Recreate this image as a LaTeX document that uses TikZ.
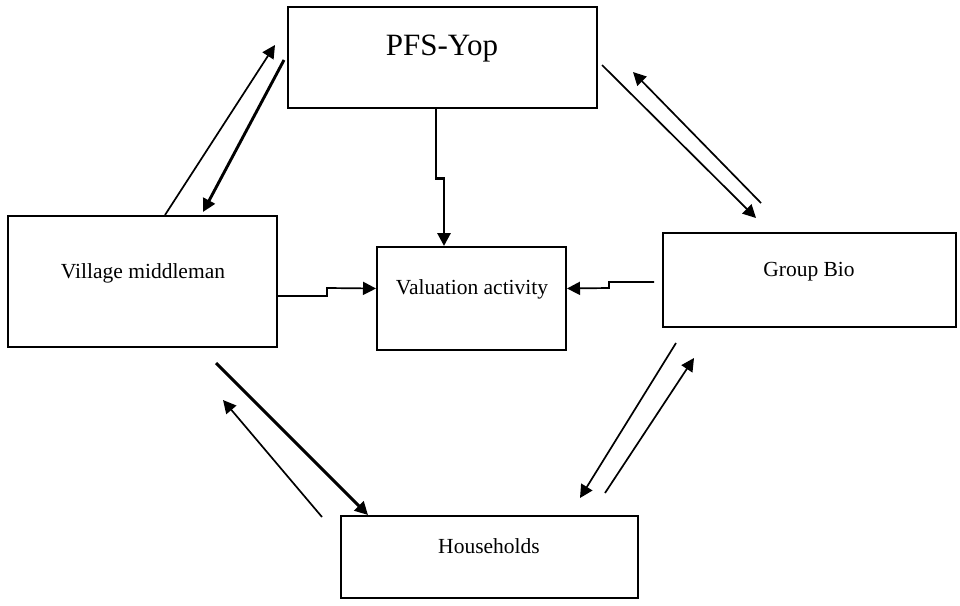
\documentclass[tikz,border=0pt]{standalone}
\usepackage{fontspec}
\setmainfont{Liberation Serif}
\usetikzlibrary{arrows.meta, positioning}
\tikzset{
    box/.style = {
      draw=black, line width=2pt, rectangle, inner sep=0,
    },
    label text/.style = {anchor=base, inner sep=0, font=\fontsize{21.5}{21.5}\selectfont},
    link/.style = {line width=1.7pt, black, arrows={-Triangle[length=13pt, width=13pt]}},
    thick link/.style = {link, line width=2.9pt},
}
\begin{document}
\begin{tikzpicture}[x=1pt, y=-1pt]
    \useasboundingbox (0,0) rectangle (960,605);

    %% The five actors and the activity in the middle
    \node [box, minimum width=309pt, minimum height=101pt] (pfs) at (442.5,57) {};
    \node [box, minimum width=269pt, minimum height=131pt] (village) at (142.5,281.5) {};
    \node [box, minimum width=189pt, minimum height=103pt] (valuation) at (471.5,298.5) {};
    \node [box, minimum width=293pt, minimum height=94pt] (bio) at (809.5,280) {};
    \node [box, minimum width=297pt, minimum height=82pt] (households) at (489.5,557) {};

    \node [label text, font=\fontsize{31}{31}\selectfont] (pfs_text) at (442,55) {PFS-Yop};
    \node [label text] (village_text) at (143,278) {Village middleman};
    \node [label text] (valuation_text) at (472,294) {Valuation activity};
    \node [label text] (bio_text) at (809,276) {Group Bio};
    \node [label text] (households_text) at (489,553) {Households};

    %% Free ends of the exchange arrows
    \coordinate (vp_a) at (165,215);  \coordinate (vp_b) at (275,45);
    \coordinate (pv_a) at (284,60);   \coordinate (pv_b) at (203,212);
    \coordinate (pb_a) at (602,65);   \coordinate (pb_b) at (756,218);
    \coordinate (bp_a) at (761,203);  \coordinate (bp_b) at (633,72);
    \coordinate (bh_a) at (676,343);  \coordinate (bh_b) at (580,498);
    \coordinate (hb_a) at (605,493);  \coordinate (hb_b) at (694,358);
    \coordinate (vh_a) at (216,363);  \coordinate (vh_b) at (368,515);
    \coordinate (hv_a) at (322,517);  \coordinate (hv_b) at (223,400);

    \draw [link] (vp_a) -- (vp_b);
    \draw [thick link] (pv_a) -- (pv_b);
    \draw [link] (pb_a) -- (pb_b);
    \draw [link] (bp_a) -- (bp_b);
    \draw [link] (bh_a) -- (bh_b);
    \draw [link] (hb_a) -- (hb_b);
    \draw [thick link] (vh_a) -- (vh_b);
    \draw [link] (hv_a) -- (hv_b);

    %% Stepped links into the valuation activity
    \draw [thick link] ([xshift=-6.5pt] pfs.south) -- ++(0,70) -- ++(8,0)
      -- ([xshift=-27.5pt] valuation.north);
    \draw [link] ([yshift=-14.5pt] village.east) -- ++(49,0) -- ++(0,-8)
      -- ([yshift=10pt] valuation.west);
    \draw [link] ([xshift=-8pt, yshift=-2pt] bio.west) -- ++(-45,0) -- ++(0,6)
      -- ([yshift=10pt] valuation.east);
  \end{tikzpicture}
\end{document}
